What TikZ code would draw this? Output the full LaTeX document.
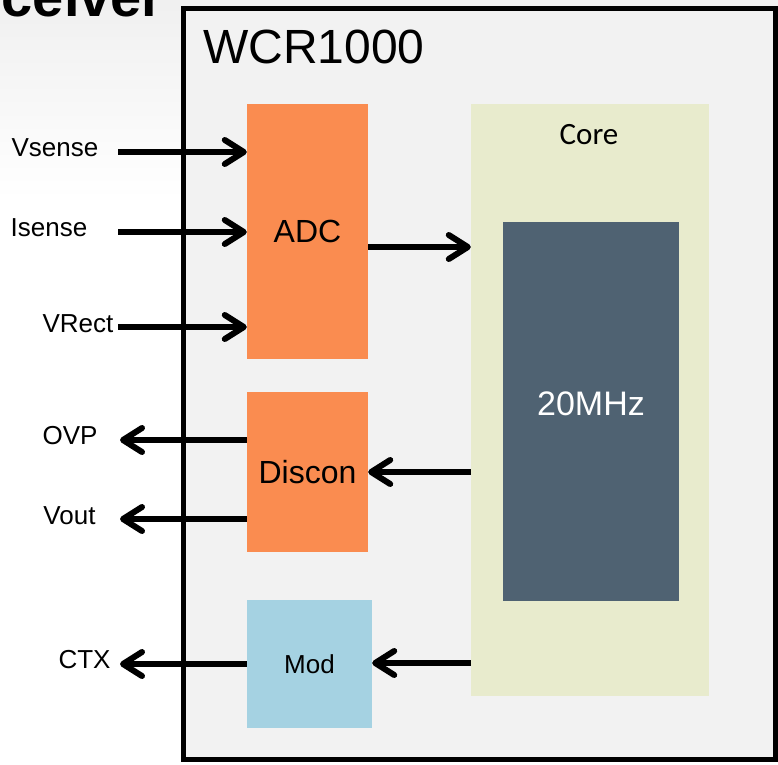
\documentclass[tikz,border=0pt]{standalone}
\usepackage{fontspec}
\setmainfont{Liberation Sans}
\newfontfamily\corefont{Carlito}
\usetikzlibrary{arrows.meta}
\definecolor{adcorange}{HTML}{FA8C50}
\definecolor{modblue}{HTML}{A5D2E2}
\definecolor{corefill}{HTML}{E8EBCD}
\definecolor{clkfill}{HTML}{4F6272}
\definecolor{boxfill}{HTML}{F2F2F2}
\tikzset{
  sig/.style={line width=6pt, -{Straight Barb[length=19pt,width=24pt,line cap=round,line join=round]}},
  lbl/.style={font=\fontsize{26}{29}\selectfont, inner sep=0pt, anchor=base},
}
\begin{document}
\begin{tikzpicture}[x=1pt,y=-1pt]
\useasboundingbox (0,0) rectangle (778,764);
\fill[top color=black!6, bottom color=white] (0,0) rectangle (778,200);
\begin{scope}
\clip (0,0) rectangle (778,764);
\node[font=\bfseries\fontsize{56}{60}\selectfont, anchor=base east, inner sep=0pt] (title) at (164,16) {Receiver};
\end{scope}
% outer chip
\node[draw=black, line width=5pt, fill=boxfill, minimum width=592pt, minimum height=751pt, inner sep=0pt] (wcr) at (479,383.5) {};
\node[font=\fontsize{48}{52}\selectfont, anchor=base west, inner sep=0pt] (wcrlabel) at (203,63) {WCR1000};
% blocks
\node[fill=adcorange, minimum width=121pt, minimum height=255pt, inner sep=0pt, font=\fontsize{32}{36}\selectfont] (adc) at (307.5,231.5) {ADC};
\node[fill=adcorange, minimum width=121pt, minimum height=160pt, inner sep=0pt, font=\fontsize{32}{36}\selectfont] (discon) at (307.5,472) {Discon};
\node[fill=modblue, minimum width=125pt, minimum height=128pt, inner sep=0pt, font=\fontsize{26}{30}\selectfont] (mod) at (309.5,664) {Mod};
\node[fill=corefill, minimum width=238pt, minimum height=592pt, inner sep=0pt] (core) at (590,400) {};
\node[font=\corefont\fontsize{31}{34}\selectfont, anchor=base, inner sep=0pt] (corelabel) at (589,144) {Core};
\node[fill=clkfill, minimum width=176pt, minimum height=379pt, inner sep=0pt] (clk) at (591,411.5) {};
\node[font=\fontsize{34}{38}\selectfont, text=white, anchor=base, inner sep=0pt] (clklabel) at (591,415) {20MHz};
% labels
\node[lbl] (vsense) at (55,156) {Vsense};
\node[lbl] (isense) at (49,236) {Isense};
\node[lbl] (vrect) at (78,332) {VRect};
\node[lbl] (ovp) at (70,444) {OVP};
\node[lbl] (vout) at (69.5,524) {Vout};
\node[lbl] (ctx) at (84.5,668) {CTX};
% free ends
\coordinate (vsenseEnd) at (118,152);
\coordinate (isenseEnd) at (118,232);
\coordinate (vrectEnd) at (118,327);
\coordinate (ovpEnd) at (120,440);
\coordinate (voutEnd) at (120,519);
\coordinate (ctxEnd) at (120,664);
% connectors
\draw[sig] (vsenseEnd) -- (vsenseEnd -| adc.west);
\draw[sig] (isenseEnd) -- (isenseEnd -| adc.west);
\draw[sig] (vrectEnd) -- (vrectEnd -| adc.west);
\draw[sig] (ovpEnd -| discon.west) -- (ovpEnd);
\draw[sig] (voutEnd -| discon.west) -- (voutEnd);
\draw[sig] (ctxEnd -| mod.west) -- (ctxEnd);
\draw[sig] (adc.east |- 0,247) -- (core.west |- 0,247);
\draw[sig] (core.west |- 0,472) -- (discon.east |- 0,472);
\draw[sig] (core.west |- 0,663) -- (mod.east |- 0,663);
\end{tikzpicture}
\end{document}
